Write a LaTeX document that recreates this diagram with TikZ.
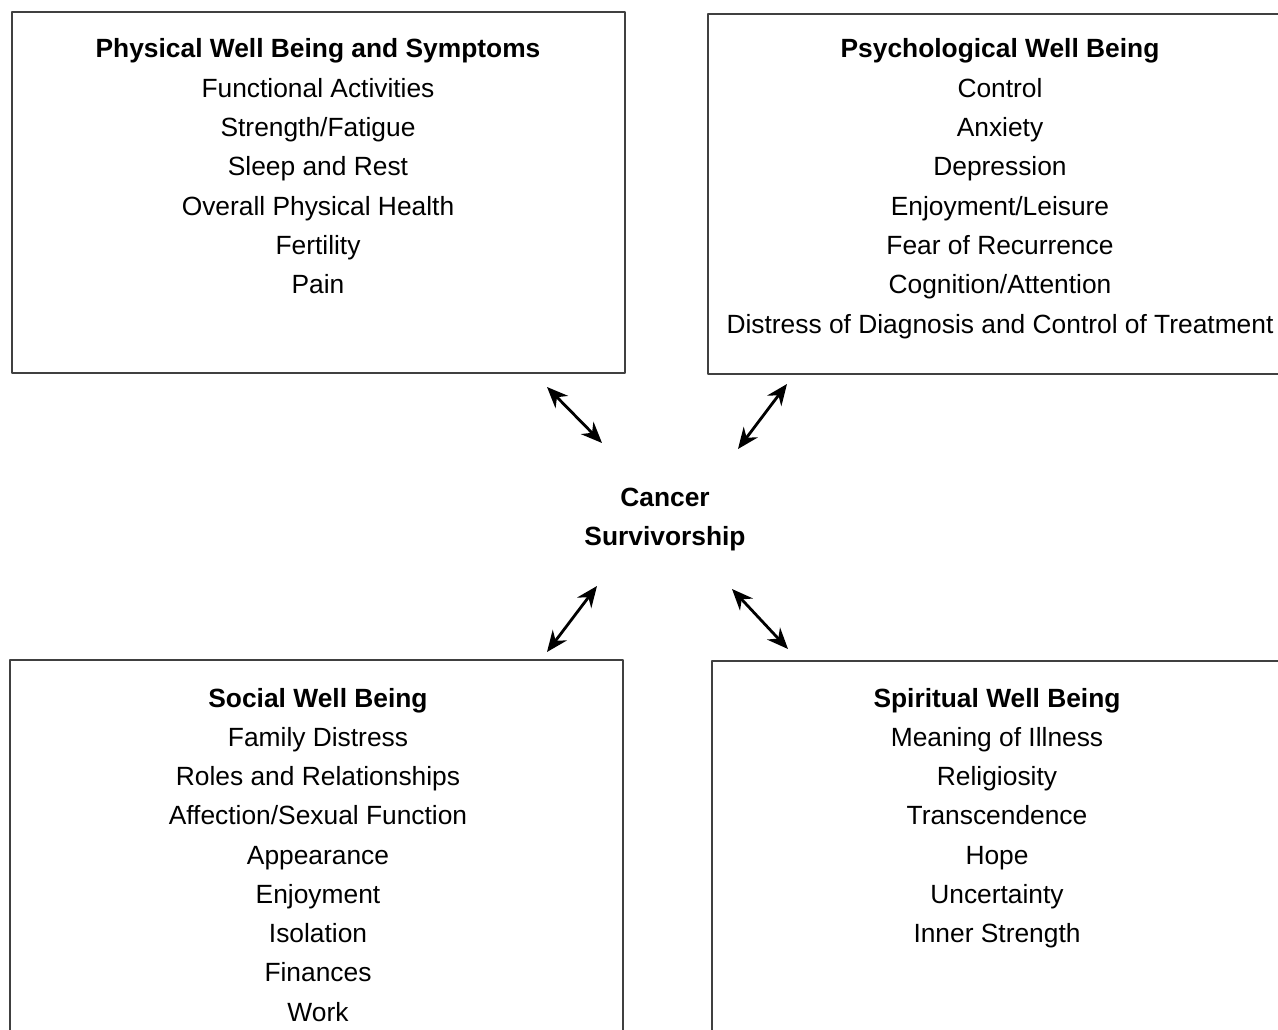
\documentclass[tikz,border=0pt]{standalone}
\usepackage{fontspec}
\setmainfont{Liberation Sans}
\usetikzlibrary{arrows.meta}
\begin{document}
\begin{tikzpicture}[x=0.02cm,y=-0.02cm,line join=round,
	box/.style={draw=black!75,line width=1.1pt},
	item/.style={anchor=base,inner sep=0pt,font=\fontsize{15}{22.2}\selectfont},
	head/.style={item,font=\fontsize{15}{22.2}\selectfont\bfseries},
	link/.style={{Stealth[length=12pt,width=10pt]}-{Stealth[length=12pt,width=10pt]},line width=1.6pt}]
	\useasboundingbox (0,0) rectangle (1278,1030);
	\clip (0,0) rectangle (1278,1030);
	\path
	(12,12) coordinate (P1) (625,373) coordinate (P2)
	(708,14) coordinate (Q1) (1290,374) coordinate (Q2)
	(10,660) coordinate (S1) (623,1040) coordinate (S2)
	(712,661) coordinate (R1) (1290,1040) coordinate (R2)
	(547,387) coordinate (a1) (602,443) coordinate (b1)
	(787,384) coordinate (a2) (738,449) coordinate (b2)
	(597,586) coordinate (a3) (547,652) coordinate (b3)
	(732,589) coordinate (a4) (788,649) coordinate (b4)
	;
	\draw[box] (P1) rectangle (P2) (Q1) rectangle (Q2) (S1) rectangle (S2) (R1) rectangle (R2);
	% physical
	\node[head] (phys) at (318,58) {Physical Well Being and Symptoms};
	\foreach \t [count=\i] in {Functional Activities,Strength/Fatigue,Sleep and Rest,Overall Physical Health,Fertility,Pain}
	\node[item] (phys-\i) at (318,{58+39.3*\i}) {\t};
	% psychological
	\node[head] (psy) at (1000,58) {Psychological Well Being};
	\foreach \t [count=\i] in {Control,Anxiety,Depression,Enjoyment/Leisure,Fear of Recurrence,Cognition/Attention,Distress of Diagnosis and Control of Treatment}
	\node[item] (psy-\i) at (1000,{58+39.3*\i}) {\t};
	% social
	\node[head] (soc) at (318,707) {Social Well Being};
	\foreach \t [count=\i] in {Family Distress,Roles and Relationships,Affection/Sexual Function,Appearance,Enjoyment,Isolation,Finances,Work}
	\node[item] (soc-\i) at (318,{707+39.25*\i}) {\t};
	% spiritual
	\node[head] (spi) at (997,707) {Spiritual Well Being};
	\foreach \t [count=\i] in {Meaning of Illness,Religiosity,Transcendence,Hope,Uncertainty,Inner Strength}
	\node[item] (spi-\i) at (997,{707+39.25*\i}) {\t};
	% centre
	\node[head,anchor=center,align=center] (cs) at (665,520) {Cancer\\Survivorship};
	\foreach \p in {1,2,3,4}
	\draw[link] (a\p)--(b\p);
\end{tikzpicture}
\end{document}
